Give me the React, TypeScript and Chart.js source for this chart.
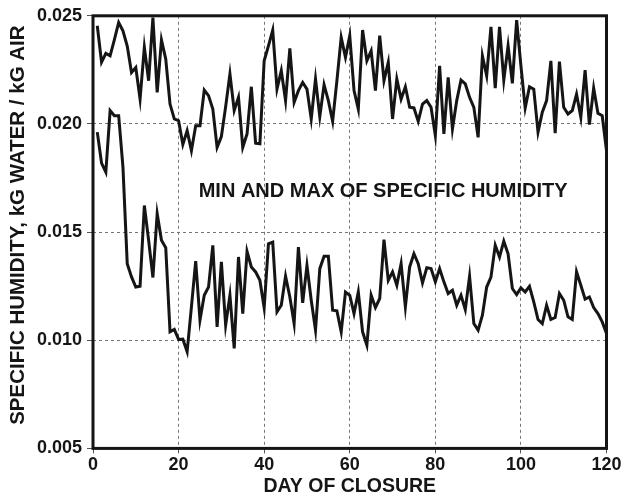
import React, { useEffect, useRef } from "react";
import { Chart, registerables } from "chart.js";
Chart.register(...registerables);

const days = Array.from({ length: 120 }, (_, i) => i + 1);

const maxHumidity = [
  0.02454, 0.02285, 0.02326, 0.02315, 0.0239, 0.02469, 0.02431, 0.0236, 0.02238, 0.02261,
  0.02115, 0.02354, 0.022, 0.02492, 0.02146, 0.02388, 0.023, 0.02092, 0.02023, 0.02015,
  0.01905, 0.01969, 0.01877, 0.01992, 0.01992, 0.02157, 0.02131, 0.02069, 0.01892, 0.01942,
  0.0208, 0.02231, 0.02062, 0.02123, 0.01892, 0.01954, 0.02172, 0.01911, 0.01908, 0.02292,
  0.02361, 0.02434, 0.02161, 0.02246, 0.02108, 0.02349, 0.021, 0.02154, 0.02192, 0.02161,
  0.02023, 0.02208, 0.02034, 0.02181, 0.02108, 0.02012, 0.022, 0.024, 0.02308, 0.02408,
  0.02154, 0.02069, 0.02434, 0.02292, 0.02338, 0.02154, 0.02408, 0.022, 0.02285, 0.02023,
  0.02208, 0.02115, 0.02172, 0.02077, 0.02074, 0.02012, 0.02092, 0.02108, 0.02077, 0.01946,
  0.02269, 0.01954, 0.02215, 0.01977, 0.02108, 0.02203, 0.02185, 0.02123, 0.02077, 0.01938,
  0.02315, 0.02223, 0.02449, 0.02166, 0.02449, 0.02203, 0.02361, 0.02188, 0.0248, 0.02269,
  0.02074, 0.02172, 0.02161, 0.01962, 0.02054, 0.02108, 0.02292, 0.01957, 0.02288, 0.02077,
  0.02046, 0.02062, 0.02138, 0.02031, 0.02249, 0.01997, 0.02166, 0.02049, 0.02038, 0.01877,
];

const minHumidity = [
  0.01962, 0.01819, 0.01777, 0.02062, 0.02038, 0.02038, 0.018, 0.01354, 0.01293, 0.01246,
  0.0125, 0.01623, 0.01462, 0.0129, 0.01585, 0.01462, 0.01428, 0.01039, 0.0105, 0.01004,
  0.01005, 0.00947, 0.01154, 0.01366, 0.01093, 0.01208, 0.01246, 0.01439, 0.01062, 0.01362,
  0.0107, 0.01208, 0.00962, 0.01385, 0.01123, 0.01411, 0.01339, 0.01316, 0.01277, 0.0115,
  0.01446, 0.01454, 0.01131, 0.01162, 0.01296, 0.012, 0.01077, 0.01431, 0.01173, 0.01346,
  0.01185, 0.01047, 0.01331, 0.01388, 0.01388, 0.01139, 0.01136, 0.01039, 0.01223, 0.01208,
  0.01123, 0.01223, 0.01039, 0.00977, 0.01208, 0.01151, 0.01193, 0.01465, 0.01277, 0.01316,
  0.01254, 0.01354, 0.01154, 0.01339, 0.014, 0.01354, 0.01265, 0.01335, 0.01331, 0.0127,
  0.01331, 0.0127, 0.01216, 0.01231, 0.01162, 0.01208, 0.01142, 0.01296, 0.01077, 0.01047,
  0.01116, 0.01246, 0.01292, 0.01439, 0.01385, 0.01458, 0.014, 0.01239, 0.01211, 0.01242,
  0.01223, 0.01249, 0.01177, 0.01096, 0.01077, 0.01162, 0.01096, 0.01105, 0.01216, 0.01185,
  0.01108, 0.01096, 0.01316, 0.01254, 0.0119, 0.012, 0.01151, 0.01123, 0.01085, 0.01031,
];

const xTicks = [0, 20, 40, 60, 80, 100, 120];
const yTicks = [0.005, 0.01, 0.015, 0.02, 0.025];
const annotationText = "MIN AND MAX OF SPECIFIC HUMIDITY";
const annotationDay = 67.8;
const annotationValue = 0.0169;
const xTitle = "DAY OF CLOSURE";
const yTitle = "SPECIFIC HUMIDITY, kG WATER / kG AIR";

const FONT = "'Liberation Sans', Arial, Helvetica, sans-serif";
const INK = "#151515";

export default function App() {
  const ref = useRef<HTMLCanvasElement>(null);

  useEffect(() => {
    if (!ref.current) return;
    const boxPlugin = {
      id: "boxAndNote",
      afterDatasetsDraw(chart: any) {
        const { ctx, chartArea: a, scales } = chart;
        ctx.save();
        ctx.strokeStyle = INK;
        ctx.lineWidth = 3;
        ctx.strokeRect(a.left, a.top, a.right - a.left, a.bottom - a.top);
        ctx.font = `bold 20px ${FONT}`;
        ctx.fillStyle = INK;
        ctx.textAlign = "center";
        ctx.textBaseline = "middle";
        ctx.fillText(
          annotationText,
          scales.x.getPixelForValue(annotationDay),
          scales.y.getPixelForValue(annotationValue)
        );
        // vertical axis title
        ctx.translate(18, (a.top + a.bottom) / 2 - 7);
        ctx.rotate(-Math.PI / 2);
        ctx.font = `bold 20.5px ${FONT}`;
        ctx.fillText(yTitle, 0, 0);
        ctx.restore();
      },
    };

    const chart = new Chart(ref.current, {
      type: "line",
      data: {
        datasets: [
          {
            label: "Max",
            data: days.map((d, i) => ({ x: d, y: maxHumidity[i] })),
            borderColor: INK,
            borderWidth: 3,
            pointRadius: 0,
            tension: 0,
            fill: false,
          },
          {
            label: "Min",
            data: days.map((d, i) => ({ x: d, y: minHumidity[i] })),
            borderColor: INK,
            borderWidth: 3,
            pointRadius: 0,
            tension: 0,
            fill: false,
          },
        ],
      },
      options: {
        responsive: false,
        animation: false,
        events: [],
        layout: { padding: { left: 0, right: 18.5, top: 15, bottom: 0 } },
        plugins: { legend: { display: false }, tooltip: { enabled: false } },
        scales: {
          x: {
            type: "linear",
            min: 0,
            max: 120,
            afterBuildTicks: (s: any) => {
              s.ticks = xTicks.map((v) => ({ value: v }));
            },
            afterFit: (s: any) => {
              s.height = 49.6;
            },
            grid: { color: "#777", lineWidth: 1, tickLength: 5, tickColor: "#555" },
            border: { display: false, dash: [3, 3] },
            ticks: {
              color: INK,
              font: { family: FONT, size: 18, weight: "bold" },
              padding: 1,
              maxRotation: 0,
              callback: (v: any) => String(v),
            },
            title: {
              display: true,
              text: xTitle,
              color: INK,
              font: { family: FONT, size: 19.5, weight: "bold" },
              padding: { top: 0, bottom: 0 },
            },
          },
          y: {
            type: "linear",
            min: 0.005,
            max: 0.025,
            afterBuildTicks: (s: any) => {
              s.ticks = yTicks.map((v) => ({ value: v }));
            },
            afterFit: (s: any) => {
              s.width = 93;
            },
            grid: { color: "#777", lineWidth: 1, tickLength: 6, tickColor: "#555" },
            border: { display: false, dash: [3, 3] },
            ticks: {
              color: INK,
              font: { family: FONT, size: 18, weight: "bold" },
              padding: 5,
              callback: (v: any) => Number(v).toFixed(3),
            },
          },
        },
      },
      plugins: [boxPlugin],
    } as any);

    return () => chart.destroy();
  }, []);

  return (
    <div style={{ position: "absolute", left: 0, top: 0, width: 625, height: 498, background: "#fff" }}>
      <canvas ref={ref} width={625} height={498} style={{ display: "block" }} />
    </div>
  );
}
